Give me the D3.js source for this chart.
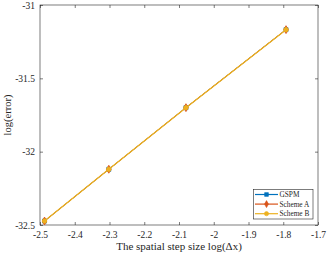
<!DOCTYPE html>
<html><head><meta charset="utf-8">
<script src="https://cdn.jsdelivr.net/npm/d3@7"></script>
<style>body{margin:0;background:#fff}svg{display:block}text{font-family:"Liberation Serif","Times New Roman",serif;fill:#262626}</style>
</head><body><svg id="c" width="327" height="255"></svg>
<script>
const xValues = [-2.487, -2.302, -2.080, -1.792];
const gspm = [-32.473, -32.120, -31.700, -31.168];
const schemeA = [-32.473, -32.120, -31.700, -31.168];
const schemeB = [-32.473, -32.120, -31.700, -31.168];
const seriesNames = ["GSPM", "Scheme A", "Scheme B"];
const seriesColors = ["#0072BD", "#D95319", "#EDB120"];
const xTicks = [-2.5, -2.4, -2.3, -2.2, -2.1, -2, -1.9, -1.8, -1.7];
const yTicks = [-32.5, -32, -31.5, -31];

const svg = d3.select("#c");
const L = 40, R = 318, T = 5, B = 225;
const x = d3.scaleLinear().domain([-2.5, -1.7]).range([L, R]);
const y = d3.scaleLinear().domain([-32.5, -31]).range([B, T]);
const axCol = "#262626";

function styleAxis(g){ g.select(".domain").remove(); g.selectAll("line").attr("stroke", axCol).attr("stroke-width",0.6); g.selectAll("text").style("font-size","9.5px").attr("fill",axCol); }

svg.append("g").attr("transform",`translate(0,${B})`)
  .call(d3.axisBottom(x).tickValues(xTicks).tickFormat(d=>String(d)).tickSizeInner(-3).tickSizeOuter(0).tickPadding(6))
  .call(styleAxis);
svg.append("g").attr("transform",`translate(0,${T})`)
  .call(d3.axisTop(x).tickValues(xTicks).tickFormat("").tickSizeInner(-3).tickSizeOuter(0))
  .call(styleAxis);
svg.append("g").attr("transform",`translate(${L},0)`)
  .call(d3.axisLeft(y).tickValues(yTicks).tickFormat(d=>String(d)).tickSizeInner(-3).tickSizeOuter(0).tickPadding(5))
  .call(styleAxis);
svg.append("g").attr("transform",`translate(${R},0)`)
  .call(d3.axisRight(y).tickValues(yTicks).tickFormat("").tickSizeInner(-3).tickSizeOuter(0))
  .call(styleAxis);
svg.append("rect").attr("x",L).attr("y",T).attr("width",R-L).attr("height",B-T)
  .attr("fill","none").attr("stroke",axCol).attr("stroke-width",0.6);

const all = [gspm, schemeA, schemeB];
const line = d3.line().x((d,i)=>x(xValues[i])).y(d=>y(d));
const symbols = [d3.symbolSquare, d3.symbolDiamond, d3.symbolCircle];
const symSizes = [16, 18, 16];
const lineW = [1.0, 1.0, 1.3];
all.forEach((vals, s) => {
  const g = svg.append("g");
  g.append("path").datum(vals).attr("d", line).attr("fill","none")
    .attr("stroke", seriesColors[s]).attr("stroke-width",lineW[s]);
  g.selectAll("path.m").data(vals).enter().append("path").attr("class","m")
    .attr("d", d3.symbol().type(symbols[s]).size(symSizes[s]))
    .attr("transform",(d,i)=>`translate(${x(xValues[i])},${y(d)})`)
    .attr("fill", seriesColors[s]).attr("stroke", seriesColors[s]).attr("stroke-width",0.8);
});

// legend
const lg = svg.append("g");
lg.append("rect").attr("x",253.5).attr("y",189.5).attr("width",59.5).attr("height",29.5)
  .attr("fill","#fff").attr("stroke",axCol).attr("stroke-width",0.6);
seriesNames.forEach((n,i)=>{
  const yy = 194.5 + i*9.6;
  lg.append("line").attr("x1",255).attr("x2",278).attr("y1",yy).attr("y2",yy)
    .attr("stroke",seriesColors[i]).attr("stroke-width",1.2);
  lg.append("path").attr("d", d3.symbol().type(symbols[i]).size(14))
    .attr("transform",`translate(266.5,${yy})`).attr("fill",seriesColors[i]).attr("stroke",seriesColors[i]).attr("stroke-width",0.6);
  lg.append("text").attr("x",279.5).attr("y",yy).attr("dy","0.33em").style("font-size","7.3px").text(n);
});

svg.append("text").attr("x",(L+R)/2).attr("y",250).attr("text-anchor","middle")
  .style("font-size","11px").text("The spatial step size log(\u0394x)");
svg.append("text").attr("transform",`translate(11,${(T+B)/2}) rotate(-90)`).attr("text-anchor","middle")
  .style("font-size","10.5px").text("log(error)");
</script></body></html>
